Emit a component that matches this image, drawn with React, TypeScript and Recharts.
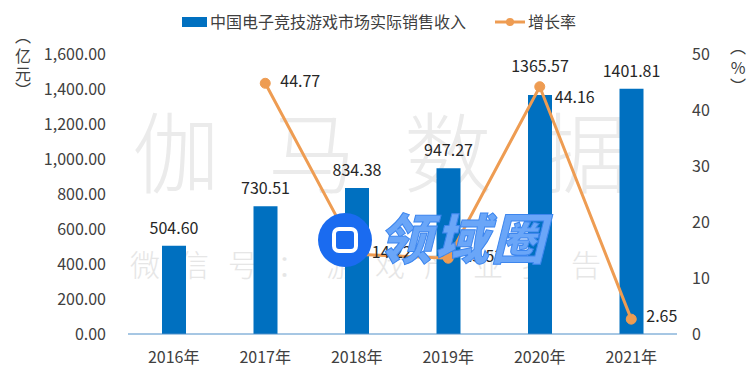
import React from "react";
import { ComposedChart, Bar, Line, XAxis, YAxis, LabelList } from "recharts";

const years = ["2016年", "2017年", "2018年", "2019年", "2020年", "2021年"];
const revenue = [504.6, 730.51, 834.38, 947.27, 1365.57, 1401.81];
const growth: (number | null)[] = [null, 44.77, 14.22, 13.53, 44.16, 2.65];
const leftTicks = [0, 200, 400, 600, 800, 1000, 1200, 1400, 1600];
const rightTicks = [0, 10, 20, 30, 40, 50];

const data = years.map((y, i) => ({ year: y, revenue: revenue[i], growth: growth[i] }));

const FONT = '"Noto Sans CJK SC", "Noto Sans", sans-serif';
const BLUE = "#0070C0";
const ORANGE = "#EE9C52";

const fmtLeft = (v: number) =>
  v.toLocaleString("en-US", { minimumFractionDigits: 2, maximumFractionDigits: 2 });

const BarLabel = (props: any) => {
  const { x, y, width, value, index } = props;
  const lift = index === 4 ? 23 : 12;
  return (
    <text x={x + width / 2} y={y - lift} textAnchor="middle" fontSize={16} fill="#262626" fontFamily={FONT}>
      {Number(value).toFixed(2)}
    </text>
  );
};

const LineLabel = (props: any) => {
  const { x, y, value, index } = props;
  if (value == null) return null;
  const dy = index === 4 ? 16 : index === 5 ? 3 : 4;
  return (
    <text x={x + 15} y={y + dy} textAnchor="start" fontSize={16} fill="#262626" fontFamily={FONT}>
      {Number(value).toFixed(2)}
    </text>
  );
};

export default function App() {
  return (
    <div style={{ position: "absolute", left: 0, top: 0, width: 750, height: 384, background: "#fff", fontFamily: FONT }}>
      {/* background watermark */}
      <svg width={750} height={384} style={{ position: "absolute", left: 0, top: 0 }}>
        <text x={132} y={186} fontSize={88} fontWeight={300} fill="#ebebeb" fontFamily={FONT} letterSpacing={48}>
          伽马数据
        </text>
        <text x={130} y={276} fontSize={30} fontWeight={300} fill="#e6e6e6" fontFamily={FONT} letterSpacing={19}>
          微信号：游戏产业报告
        </text>
      </svg>
      <div style={{ position: "absolute", left: 0, top: 0 }}>
        <ComposedChart width={750} height={384} data={data} margin={{ top: 54, right: 0, bottom: 20, left: 0 }}>
          <XAxis
            dataKey="year"
            height={30}
            tickLine={false}
            axisLine={{ stroke: "#4E8FC8", strokeWidth: 1 }}
            tickMargin={12}
            tick={{ fontSize: 16, fill: "#404040", fontFamily: FONT }}
            interval={0}
          />
          <YAxis
            yAxisId="left"
            width={128}
            domain={[0, 1600]}
            ticks={leftTicks}
            tickFormatter={fmtLeft}
            axisLine={false}
            tickLine={false}
            tickMargin={16}
            tick={{ fontSize: 16, fill: "#404040", fontFamily: FONT }}
          />
          <YAxis
            yAxisId="right"
            orientation="right"
            width={73}
            domain={[0, 50]}
            ticks={rightTicks}
            axisLine={false}
            tickLine={false}
            tickMargin={9}
            tick={{ fontSize: 16, fill: "#404040", fontFamily: FONT }}
          />
          <Bar yAxisId="left" dataKey="revenue" fill={BLUE} barSize={24} isAnimationActive={false}>
            <LabelList dataKey="revenue" content={BarLabel} />
          </Bar>
          <Line
            yAxisId="right"
            dataKey="growth"
            stroke={ORANGE}
            strokeWidth={3}
            dot={{ r: 5, fill: ORANGE, stroke: ORANGE, strokeWidth: 1 }}
            isAnimationActive={false}
            connectNulls={false}
          >
            <LabelList dataKey="growth" content={LineLabel} />
          </Line>
        </ComposedChart>
      </div>
      {/* overlay: axis titles, legend, logo */}
      <svg width={750} height={384} style={{ position: "absolute", left: 0, top: 0 }}>
        <g fontFamily={FONT} fontSize={16} fill="#404040" textAnchor="middle">
          <text x={23} y={42}>︵</text>
          <text x={23} y={62}>亿</text>
          <text x={23} y={80}>元</text>
          <text x={23} y={96}>︶</text>
          <text x={738} y={53}>︵</text>
          <text x={738} y={74}>%</text>
          <text x={738} y={92}>︶</text>
        </g>
        <rect x={182} y={17} width={25} height={10} fill={BLUE} />
        <text x={210} y={28} fontSize={16} fill="#404040" fontFamily={FONT}>
          中国电子竞技游戏市场实际销售收入
        </text>
        <line x1={495} y1={22} x2={525} y2={22} stroke={ORANGE} strokeWidth={3} />
        <circle cx={510} cy={22} r={4} fill={ORANGE} />
        <text x={528} y={28} fontSize={16} fill="#404040" fontFamily={FONT}>
          增长率
        </text>
        <circle cx={345} cy={240} r={27} fill="#1A6BF0" />
        <rect x={334} y={229} width={22} height={22} rx={5} fill="none" stroke="#fff" strokeWidth={4} />
        <text
          x={378}
          y={259}
          fontSize={54}
          fontWeight={900}
          fontStyle="italic"
          fill="#6AA6F8"
          stroke="#3D86EE"
          strokeWidth={1}
          fontFamily={FONT}
          textLength={167}
        >
          领域圈
        </text>
      </svg>
    </div>
  );
}
